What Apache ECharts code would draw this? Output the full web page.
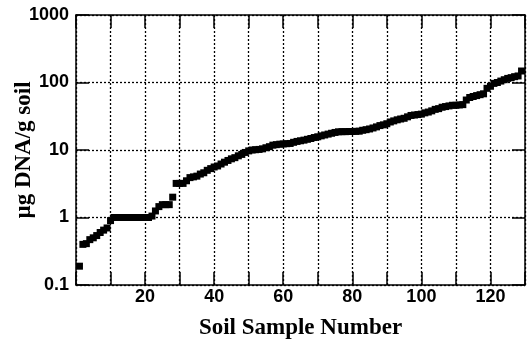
<!DOCTYPE html>
<html>
<head>
<meta charset="utf-8">
<script src="https://cdn.jsdelivr.net/npm/echarts@6/dist/echarts.min.js"></script>
<style>
  html, body { margin: 0; padding: 0; background: #fff; }
  #chart { width: 530px; height: 339px; }
</style>
</head>
<body>
<div id="chart"></div>
<script>
// sample numbers 1..129, DNA yield (µg DNA / g soil)
const sampleNumbers = [
  1, 2, 3, 4, 5, 6, 7, 8, 9, 10,
  11, 12, 13, 14, 15, 16, 17, 18, 19, 20,
  21, 22, 23, 24, 25, 26, 27, 28, 29, 30,
  31, 32, 33, 34, 35, 36, 37, 38, 39, 40,
  41, 42, 43, 44, 45, 46, 47, 48, 49, 50,
  51, 52, 53, 54, 55, 56, 57, 58, 59, 60,
  61, 62, 63, 64, 65, 66, 67, 68, 69, 70,
  71, 72, 73, 74, 75, 76, 77, 78, 79, 80,
  81, 82, 83, 84, 85, 86, 87, 88, 89, 90,
  91, 92, 93, 94, 95, 96, 97, 98, 99, 100,
  101, 102, 103, 104, 105, 106, 107, 108, 109, 110,
  111, 112, 113, 114, 115, 116, 117, 118, 119, 120,
  121, 122, 123, 124, 125, 126, 127, 128, 129
];
const dnaYield = [
  0.19, 0.40, 0.41, 0.47, 0.50, 0.54, 0.60, 0.65, 0.70, 0.90,
  1.0, 1.0, 1.0, 1.0, 1.0, 1.0, 1.0, 1.0, 1.0, 1.0,
  1.0, 1.05, 1.25, 1.45, 1.55, 1.55, 1.55, 2.0, 3.2, 3.2,
  3.2, 3.5, 3.9, 4.0, 4.1, 4.4, 4.6, 5.0, 5.3, 5.6,
  5.8, 6.2, 6.6, 7.0, 7.4, 7.7, 8.2, 8.6, 9.2, 9.7,
  10.0, 10.1, 10.2, 10.4, 10.8, 11.2, 11.8, 12.0, 12.2, 12.3,
  12.4, 12.5, 13.0, 13.4, 13.7, 14.0, 14.4, 14.8, 15.3, 15.7,
  16.2, 16.7, 17.2, 17.7, 18.2, 18.6, 18.7, 18.7, 18.8, 18.8,
  18.9, 19.0, 19.6, 20.0, 20.5, 21.2, 22.0, 23.0, 23.6, 24.5,
  26.0, 27.0, 28.0, 28.8, 29.5, 31.0, 32.5, 33.0, 33.5, 34.0,
  35.5, 36.5, 38.0, 40.0, 41.0, 43.0, 44.0, 45.0, 46.0, 46.0,
  46.5, 47.0, 55.0, 60.0, 62.0, 64.0, 66.0, 68.0, 82.0, 88.0,
  97.0, 100.0, 105.0, 110.0, 115.0, 118.0, 122.0, 125.0, 148.0
];
const xTickLabels = [20, 40, 60, 80, 100, 120];
const yTickLabels = [0.1, 1, 10, 100, 1000];

const chart = echarts.init(document.getElementById('chart'));

const tickFont = {
  color: '#000',
  fontFamily: '"Liberation Sans", Arial, sans-serif',
  fontWeight: 'bold',
  fontSize: 18
};
const nameFont = {
  color: '#000',
  fontFamily: '"Liberation Serif", "Times New Roman", serif',
  fontWeight: 'bold',
  fontSize: 23
};
const axisLine = { show: true, onZero: false, lineStyle: { color: '#000', width: 1.5 } };
const axisTick = { show: true, inside: true, length: 13, lineStyle: { color: '#000', width: 1.5 } };
const gridLine = { show: true, lineStyle: { color: '#000', type: [2, 2], width: 1.3 } };

chart.setOption({
  animation: false,
  grid: { left: 76, right: 5, top: 15, bottom: 54, containLabel: false, outerBoundsMode: 'none' },
  xAxis: [
    {
      type: 'value',
      min: 0,
      max: 130,
      interval: 10,
      position: 'bottom',
      name: 'Soil Sample Number',
      nameLocation: 'middle',
      nameGap: 32,
      nameTextStyle: nameFont,
      axisLine: axisLine,
      axisTick: axisTick,
      axisLabel: Object.assign({
        margin: 3,
        formatter: (v) => (xTickLabels.includes(v) ? String(v) : '')
      }, tickFont),
      splitLine: gridLine
    },
    {
      type: 'value',
      min: 0,
      max: 130,
      interval: 10,
      position: 'top',
      axisLine: axisLine,
      axisTick: axisTick,
      axisLabel: { show: false },
      splitLine: { show: false }
    }
  ],
  yAxis: [
    {
      type: 'log',
      logBase: 10,
      min: 0.1,
      max: 1000,
      position: 'left',
      name: 'µg DNA/g soil',
      nameLocation: 'middle',
      nameMoveOverlap: false,
      nameGap: 40,
      nameTextStyle: nameFont,
      axisLine: axisLine,
      axisTick: axisTick,
      axisLabel: Object.assign({
        margin: 7,
        formatter: (v) => {
          const hit = yTickLabels.find((t) => Math.abs(t - v) / t < 1e-6);
          return hit === undefined ? '' : String(hit);
        }
      }, tickFont),
      splitLine: gridLine
    },
    {
      type: 'log',
      logBase: 10,
      min: 0.1,
      max: 1000,
      position: 'right',
      axisLine: axisLine,
      axisTick: axisTick,
      axisLabel: { show: false },
      splitLine: { show: false }
    }
  ],
  series: [
    {
      type: 'scatter',
      symbol: 'rect',
      symbolSize: 7,
      itemStyle: { color: '#000', opacity: 1 },
      data: sampleNumbers.map((n, i) => [n, dnaYield[i]])
    }
  ]
});
</script>
</body>
</html>
